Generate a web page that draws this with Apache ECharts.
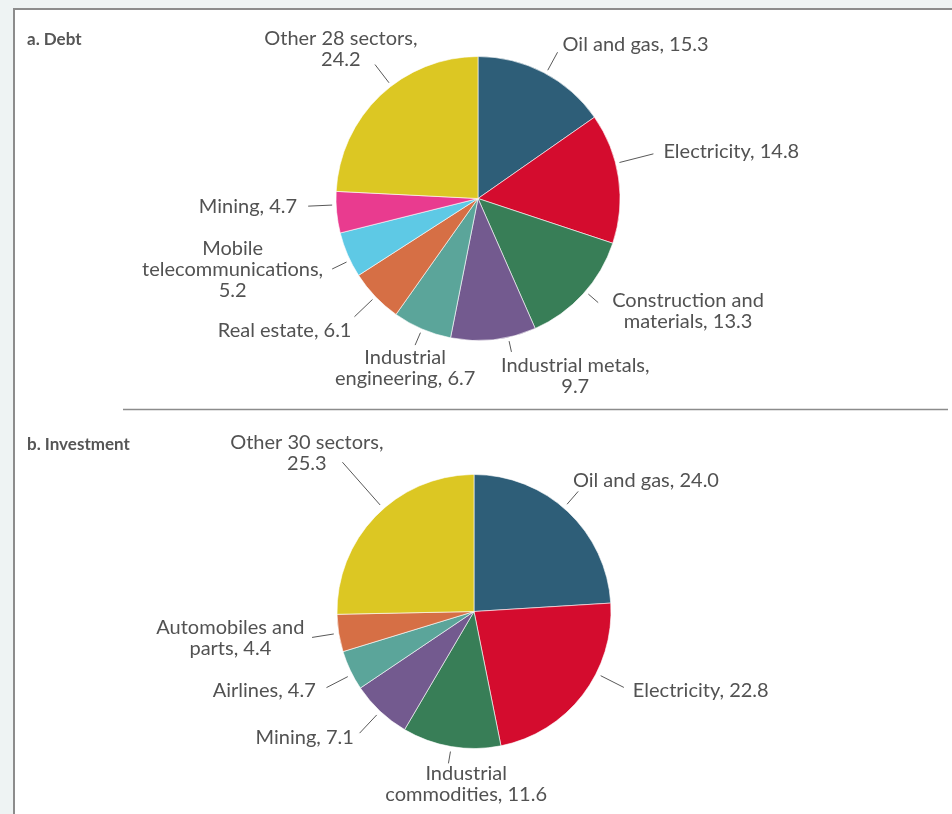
<!DOCTYPE html>
<html>
<head>
<meta charset="UTF-8">
<title>Debt and investment by sector</title>
<script src="https://cdn.jsdelivr.net/npm/echarts@6/dist/echarts.min.js"></script>
<style>
  html, body { margin: 0; padding: 0; background: #eef3f3; }
  #main { width: 952px; height: 814px; }
</style>
</head>
<body>
<div id="main"></div>
<script type="text/javascript">
  // a. Debt (percent)
  var debtNames = ['Oil and gas', 'Electricity', 'Construction and\nmaterials', 'Industrial metals',
                   'Industrial\nengineering', 'Real estate', 'Mobile\ntelecommunications', 'Mining', 'Other 28 sectors'];
  var debtValues = [15.3, 14.8, 13.3, 9.7, 6.7, 6.1, 5.2, 4.7, 24.2];
  var debtValueOnNewLine = [false, false, false, true, false, false, true, false, true];

  // b. Investment (percent)
  var invNames = ['Oil and gas', 'Electricity', 'Industrial\ncommodities', 'Mining', 'Airlines',
                  'Automobiles and\nparts', 'Other 30 sectors'];
  var invValues = [24.0, 22.8, 11.6, 7.1, 4.7, 4.4, 25.3];
  var invValueOnNewLine = [false, false, false, false, false, false, true];

  var debtColors = ['#2e5e78', '#d40c2e', '#387e57', '#735a8f', '#5ba59a', '#d66f45', '#5ec9e5', '#e93b8f', '#dcc723'];
  var invColors = ['#2e5e78', '#d40c2e', '#387e57', '#735a8f', '#5ba59a', '#d66f45', '#dcc723'];

  // pie geometry
  var pies = [
    { cx: 478, cy: 198.5, r: 142, gap: 4 },
    { cx: 474, cy: 611.5, r: 137, gap: 5 }
  ];

  // label placement: [line length, angle shift (deg), align, verticalAlign, dx, dy]
  var labelCfg = [
    [
      [24.5, 1, 'left', 'middle', 5, -8],
      [39, -6, 'left', 'middle', 10, -2.5],
      [17, -1.4, 'left', 'middle', 14, 8.5],
      [15, -6, 'left', 'top', -10.5, 3],
      [17.5, 0, 'center', 'top', -10, 2],
      [29, 0, 'right', 'middle', -3, 14],
      [20, -2.4, 'right', 'middle', -9, 0.5],
      [28, 3, 'right', 'middle', -11, 0],
      [27, 6, 'right', 'middle', 42.5, -15.5]
    ],
    [
      [22, -2.3, 'left', 'middle', -5.3, -11],
      [31, -10.7, 'left', 'middle', 9, 3],
      [17, 0, 'center', 'top', 17.7, 0],
      [30, 0, 'right', 'middle', -5.7, 4],
      [29, -1.8, 'right', 'middle', -10.7, 3],
      [27, 0, 'right', 'middle', -7.7, 0.5],
      [62, 4.2, 'right', 'middle', 41, -9]
    ]
  ];

  var allValues = [debtValues, invValues];
  var allBreaks = [debtValueOnNewLine, invValueOnNewLine];

  function midAngle(values, idx) {
    var total = 0, before = 0;
    for (var i = 0; i < values.length; i++) {
      total += values[i];
      if (i < idx) before += values[i];
    }
    // clockwise from 12 o'clock, converted to screen angle
    return ((before + values[idx] / 2) / total) * 2 * Math.PI - Math.PI / 2;
  }

  function placeLabel(p) {
    var s = p.seriesIndex, i = p.dataIndex;
    var cfg = labelCfg[s][i];
    var pie = pies[s];
    var a = midAngle(allValues[s], i) + cfg[1] * Math.PI / 180;
    var ca = Math.cos(a), sa = Math.sin(a);
    var p0 = [pie.cx + (pie.r + pie.gap) * ca, pie.cy + (pie.r + pie.gap) * sa];
    var p1 = [pie.cx + (pie.r + cfg[0]) * ca, pie.cy + (pie.r + cfg[0]) * sa];
    return {
      x: p1[0] + cfg[4],
      y: p1[1] + cfg[5],
      align: cfg[2],
      verticalAlign: cfg[3],
      labelLinePoints: [p0, p1, p1]
    };
  }

  function makeFormatter(s) {
    return function (params) {
      var sep = allBreaks[s][params.dataIndex] ? ',\n' : ', ';
      var txt = params.name + sep + params.value.toFixed(1);
      return txt.split('\n').map(function (l) { return '{c|' + l + '}'; }).join('\n');
    };
  }

  function buildData(names, values, colors) {
    var out = [];
    for (var i = 0; i < names.length; i++) {
      out.push({ name: names[i], value: values[i], itemStyle: { color: colors[i] } });
    }
    return out;
  }

  var labelFont = 'Lato, "Liberation Sans", sans-serif';
  var textColor = '#525252';

  function pieSeries(s, names, values, colors) {
    return {
      type: 'pie',
      center: [pies[s].cx, pies[s].cy],
      radius: pies[s].r,
      startAngle: 90,
      clockwise: true,
      avoidLabelOverlap: false,
      silent: true,
      animation: false,
      itemStyle: { borderColor: '#ffffff', borderWidth: 0.6 },
      label: {
        show: true,
        position: 'outside',
        formatter: makeFormatter(s),
        color: textColor,
        fontFamily: labelFont,
        fontSize: 20,
        lineHeight: 21,
        rich: {
          c: { align: 'center', color: textColor, fontFamily: labelFont, fontSize: 20, lineHeight: 21 }
        }
      },
      labelLine: {
        show: true,
        length: 10,
        length2: 0,
        lineStyle: { color: '#595959', width: 1 }
      },
      labelLayout: placeLabel,
      data: buildData(names, values, colors)
    };
  }

  var titleStyle = { fontFamily: labelFont, fontSize: 17, fontWeight: 'bold', color: '#555555' };

  var myChart = echarts.init(document.getElementById('main'));
  var option = {
    backgroundColor: '#eef3f3',
    animation: false,
    graphic: [
      { type: 'rect', shape: { x: 14, y: 9, width: 960, height: 830 }, style: { fill: '#ffffff' }, z: -10 },
      { type: 'line', shape: { x1: 14, y1: 9, x2: 960, y2: 9 }, style: { stroke: '#8c8c8c', lineWidth: 2 }, z: -9 },
      { type: 'line', shape: { x1: 14, y1: 8, x2: 14, y2: 830 }, style: { stroke: '#8c8c8c', lineWidth: 2 }, z: -9 },
      { type: 'line', shape: { x1: 123, y1: 409.5, x2: 948, y2: 409.5 }, style: { stroke: '#8c8c8c', lineWidth: 1.5 }, z: -9 }
    ],
    title: [
      { text: 'a. Debt', left: 27, top: 31, padding: 0, textStyle: titleStyle },
      { text: 'b. Investment', left: 27, top: 436, padding: 0, textStyle: titleStyle }
    ],
    series: [
      pieSeries(0, debtNames, debtValues, debtColors),
      pieSeries(1, invNames, invValues, invColors)
    ]
  };
  myChart.setOption(option);
</script>
</body>
</html>
